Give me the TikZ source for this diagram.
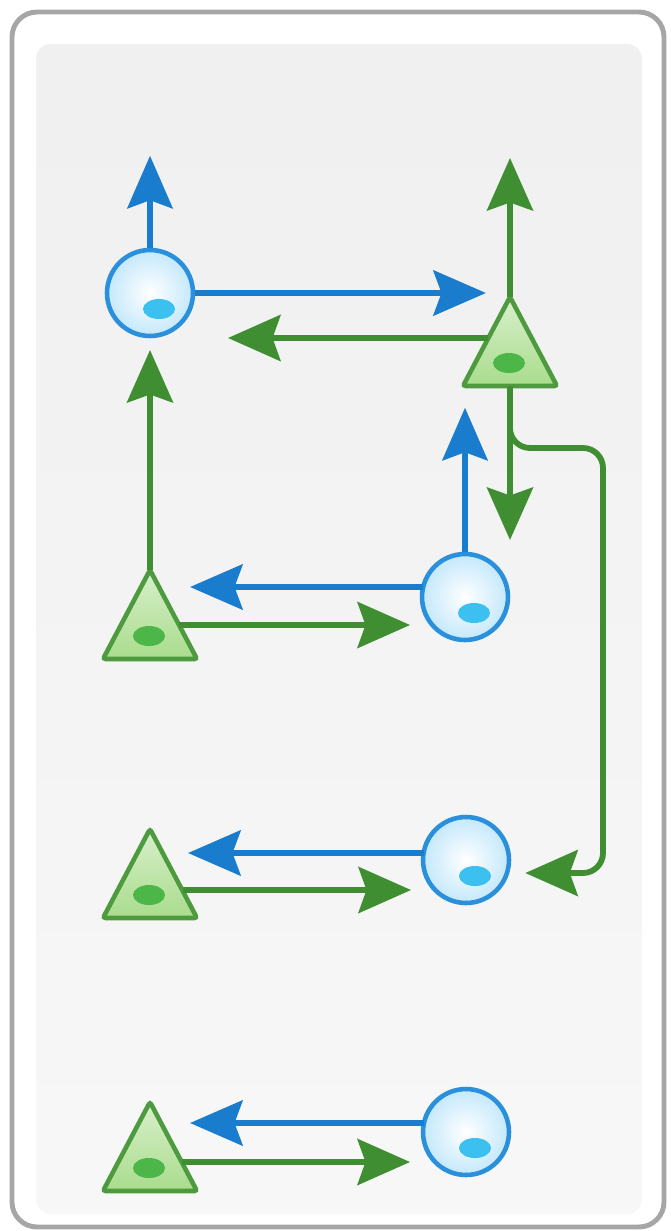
\documentclass[tikz,border=0pt]{standalone}
\usepackage{tikz}
\usetikzlibrary{arrows.meta,calc}
\definecolor{cellblue}{HTML}{1A7CCC}
\definecolor{cellrim}{HTML}{2A90DC}
\definecolor{cellsky}{HTML}{C4E8FB}
\definecolor{cellnucb}{HTML}{3CC0F0}
\definecolor{cellgreen}{HTML}{3F8F32}
\definecolor{trifill}{HTML}{A9DC8C}
\definecolor{tririm}{HTML}{4E9A3E}
\definecolor{trinucg}{HTML}{4DB648}

\begin{document}
\begin{tikzpicture}[x=0.02cm,y=-0.02cm,
cell/.style={circle,draw=cellrim,line width=2.6pt,inner sep=0pt,
minimum size=1.72cm,inner color=white,outer color=cellsky},
nucb/.style={fill=cellnucb},
tricell/.style={draw=tririm,line width=2.6pt,rounded corners=1.5pt,
top color=trifill!45,bottom color=trifill},
nucg/.style={fill=trinucg},
barr/.style={draw=cellblue,line width=3.8pt,
-{Stealth[length=1.05cm,width=0.9cm,inset=0.16cm]}},
garr/.style={draw=cellgreen,line width=3.3pt,
-{Stealth[length=1.05cm,width=0.92cm,inset=0.16cm]}}
]
\useasboundingbox (0,0) rectangle (670,1231);
% frame
\draw[gray!70,line width=2.8pt,fill=white,rounded corners=0.5cm] (12,12) rectangle (664,1227);
\shade[top color=gray!12,bottom color=gray!6,rounded corners=0.3cm] (36,44) rectangle (642,1214);

% cells
\node[cell] (c1) at (150,293) {};
\node[cell] (c2) at (465,597) {};
\node[cell] (c3) at (466,860) {};
\node[cell] (c4) at (466,1132) {};
\foreach \n in {c1,c2,c3,c4}
\fill[nucb] ($(\n)+(9,16)$) ellipse [x radius=0.32cm,y radius=0.2cm];

\foreach \n/\x/\y in {t1/510/342,t2/150/615,t3/150/874,t4/150/1147}{
\coordinate (\n) at (\x,\y);
\draw[tricell] (\x,\y-45) -- (\x+47,\y+44) -- (\x-47,\y+44) -- cycle;
\fill[nucg] (\x-1,\y+21) ellipse [x radius=0.32cm,y radius=0.2cm];
}

% connectors
\draw[barr] (c1.north) -- ($(c1.north)+(0,-92)$);
\draw[barr] (c1.east) -- ($(c1 -| t1)+(-24,0)$);
\draw[garr] ($(t1)+(-22,-4)$) -- ($(c1)+(78,45)$);
\draw[garr] ($(t1)+(0,-45)$) -- ($(t1)+(0,-184)$);
\draw[garr] ($(t2)+(0,-45)$) -- ($(c1)+(0,57)$);

\draw[barr] ($(c2)+(-42,-10)$) -- ($(t2)+(40,-28)$);
\draw[garr] ($(t2)+(29,10)$) -- ($(c2)+(-55,28)$);
\draw[barr] (c2.north) -- ($(c2.north)+(0,-144)$);
\draw[garr] ($(t1)+(0,44)$) -- ($(t1)+(0,198)$);
\draw[garr,rounded corners=0.4cm] ($(t1)+(0,78)$) |- (603,448) |- ($(c3.east)+(14,13)$);

\draw[barr] ($(c3)+(-42,-7)$) -- ($(t3)+(38,-21)$);
\draw[garr] ($(t3)+(33,16)$) -- ($(c3)+(-55,30)$);

\draw[barr] ($(c4)+(-42,-9)$) -- ($(t4)+(40,-24)$);
\draw[garr] ($(t4)+(32,15)$) -- ($(c4)+(-56,30)$);
\end{tikzpicture}
\end{document}
